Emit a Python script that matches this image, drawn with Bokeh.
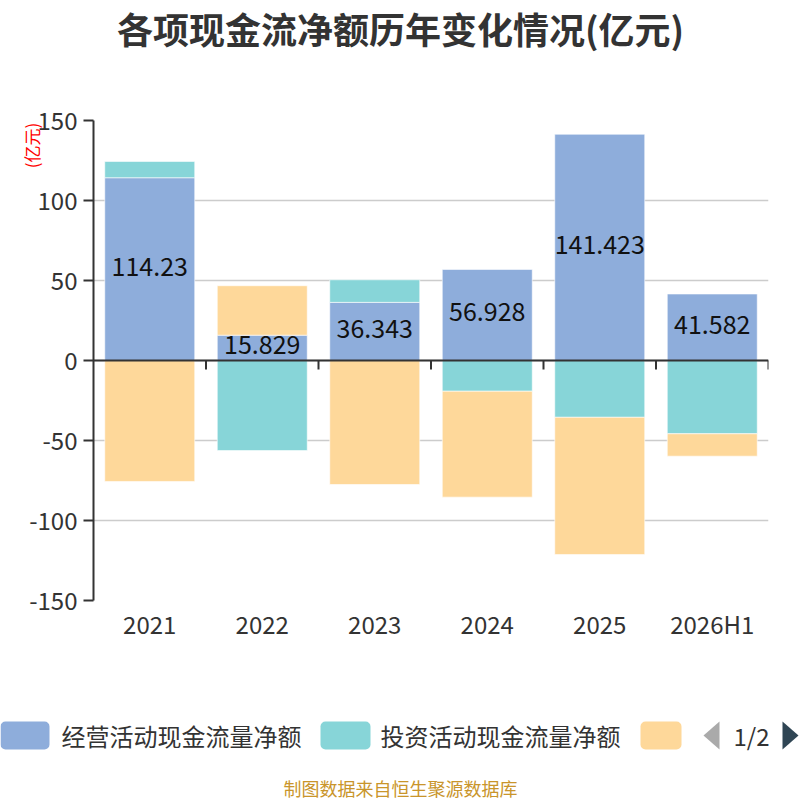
import math
from bokeh.plotting import figure
from bokeh.models import Range1d, FactorRange, FixedTicker, ColumnDataSource, Span, Label
from bokeh.layouts import column
from bokeh.transform import dodge
from bokeh.core.properties import value
from bokeh.embed import file_html
from bokeh.resources import INLINE

# ---------------- data ----------------
categories = ["2021", "2022", "2023", "2024", "2025", "2026H1"]
operating = [114.23, 15.829, 36.343, 56.928, 141.423, 41.582]
investing = [10.2, -56.3, 14.1, -19.2, -35.5, -45.8]
financing = [-75.6, 30.9, -77.5, -66.2, -85.8, -14.0]
series_names = ["经营活动现金流量净额", "投资活动现金流量净额", "筹资活动现金流量净额"]
series_colors = ["#8eaddb", "#87d5d8", "#fed89a"]
y_ticks = [-150, -100, -50, 0, 50, 100, 150]
title_text = "各项现金流净额历年变化情况(亿元)"
unit_text = "(亿元)"
footer_text = "制图数据来自恒生聚源数据库"
pager_text = "1/2"

FONT = "Noto Sans CJK SC"

# layout constants (pixels)
FRAME_L, FRAME_R, FRAME_T, FRAME_B = 93, 768, 120, 600
TOP_H, MAIN_H = 64, 612

# ---------------- stacking (positive / negative stacks) ----------------
n = len(categories)
pos_base = [0.0] * n
neg_base = [0.0] * n
stacks = []
for vals in (operating, investing, financing):
    bottoms, tops = [], []
    for i, v in enumerate(vals):
        if v >= 0:
            b, t = pos_base[i], pos_base[i] + v
            pos_base[i] = t
        else:
            t, b = neg_base[i], neg_base[i] + v
            neg_base[i] = b
        bottoms.append(b)
        tops.append(t)
    stacks.append((bottoms, tops))


def strip(w, h):
    f = figure(width=w, height=h, x_range=Range1d(0, w), y_range=Range1d(h, 0),
               x_axis_type=None, y_axis_type=None,
               output_backend="svg", toolbar_location=None, min_border=0)
    f.outline_line_color = None
    f.grid.visible = False
    f.frame_align = False
    return f


# ---------------- title strip ----------------
tt = strip(800, TOP_H)
tt.text(x=[400], y=[27], text=[title_text], text_font=value(FONT),
        text_font_size=value("36px"), text_font_style="bold",
        text_align="center", text_baseline="middle", text_color="#333333")

# ---------------- main chart ----------------
p = figure(width=800, height=MAIN_H,
           x_range=FactorRange(factors=categories, range_padding=0),
           y_range=Range1d(y_ticks[0], y_ticks[-1]),
           output_backend="svg", toolbar_location=None,
           min_border_left=FRAME_L, min_border_right=800 - FRAME_R,
           min_border_top=FRAME_T - TOP_H, min_border_bottom=MAIN_H - (FRAME_B - TOP_H))
p.outline_line_color = None
p.frame_align = False

for (bottoms, tops), name, color in zip(stacks, series_names, series_colors):
    src = ColumnDataSource(dict(cat=categories, bottom=bottoms, top=tops))
    p.vbar(x="cat", bottom="bottom", top="top", width=0.8, source=src,
           fill_color=color, line_color="white", line_alpha=0.6, line_width=1)

op_b, op_t = stacks[0]
lab_src = ColumnDataSource(dict(cat=categories,
                                y=[(b + t) / 2 for b, t in zip(op_b, op_t)],
                                txt=[f"{v:g}" for v in operating]))
p.text(x="cat", y="y", text="txt", source=lab_src, y_offset=-3,
       text_font=value(FONT), text_font_size=value("25px"),
       text_align="center", text_baseline="middle", text_color="#111111")

p.yaxis.ticker = FixedTicker(ticks=y_ticks)
p.yaxis.major_label_overrides = {t: str(t) for t in y_ticks}
p.yaxis.axis_line_color = "#333333"
p.yaxis.axis_line_width = 2
p.yaxis.major_tick_line_color = "#333333"
p.yaxis.major_tick_line_width = 2
p.yaxis.major_tick_out = 10
p.yaxis.major_tick_in = 0
p.yaxis.minor_tick_line_color = None
p.yaxis.major_label_text_font = FONT
p.yaxis.major_label_text_font_size = "24px"
p.yaxis.major_label_text_color = "#333333"
p.yaxis.major_label_standoff = 6

p.ygrid.ticker = FixedTicker(ticks=y_ticks)
p.ygrid.grid_line_color = "#cccccc"
p.ygrid.grid_line_width = 1.5
p.xgrid.grid_line_color = None

p.xaxis.axis_line_color = None
p.xaxis.major_tick_line_color = None
p.xaxis.major_tick_out = 0
p.xaxis.minor_tick_line_color = None
p.xaxis.major_label_text_font = FONT
p.xaxis.major_label_text_font_size = "24px"
p.xaxis.major_label_text_color = "#333333"
p.xaxis.major_label_standoff = 5

p.add_layout(Span(location=0, dimension="width", line_color="#333333", line_width=2))
units_per_px = (y_ticks[-1] - y_ticks[0]) / float(FRAME_B - FRAME_T)
tick_len = 9 * units_per_px
tk_src = ColumnDataSource(dict(cat=categories, y0=[0.0] * n, y1=[-tick_len] * n))
p.segment(x0=dodge("cat", 0.5, range=p.x_range), y0="y0",
          x1=dodge("cat", 0.5, range=p.x_range), y1="y1",
          source=tk_src, line_color="#333333", line_width=2)

# unit label: placed in the "above" side panel (not clipped), positioned via the plot scales
cat_px = (FRAME_R - FRAME_L) / float(n)
unit_x = (31 - FRAME_L) / cat_px
unit_y = y_ticks[-1] - (145 - FRAME_T) * units_per_px
p.add_layout(Label(x=unit_x, y=unit_y, x_units="data", y_units="data",
                   text=unit_text, text_font=FONT, text_font_size="17px",
                   text_color="#ff0000", angle=math.pi / 2,
                   text_align="center", text_baseline="middle"), "above")

# ---------------- legend strip ----------------
LEG_H = 800 - TOP_H - MAIN_H
lg = strip(800, LEG_H)
LY = 735 - (TOP_H + MAIN_H)
lg.quad(left=[0, 320, 640], right=[49, 370, 681], top=[LY - 14] * 3, bottom=[LY + 14] * 3,
        fill_color=series_colors, line_color=None, border_radius=5)
lg.text(x=[61, 380], y=[LY, LY], text=series_names[:2],
        text_font=value(FONT), text_font_size=value("24px"),
        text_baseline="middle", text_align="left", text_color="#333333")
lg.patch(x=[703, 719, 719], y=[LY, LY - 14, LY + 14], fill_color="#aaaaaa", line_color=None)
lg.text(x=[751], y=[LY], text=[pager_text], text_font=value(FONT),
        text_font_size=value("24px"), text_baseline="middle", text_align="center",
        text_color="#333333")
lg.patch(x=[782, 798, 782], y=[LY - 14, LY, LY + 14], fill_color="#2f4554", line_color=None)
lg.text(x=[400], y=[787 - (TOP_H + MAIN_H)], text=[footer_text], text_font=value(FONT),
        text_font_size=value("18px"), text_baseline="middle", text_align="center",
        text_color="#c9952b")

layout = column(tt, p, lg, spacing=0)
open("out.html", "w").write(file_html(layout, INLINE))
